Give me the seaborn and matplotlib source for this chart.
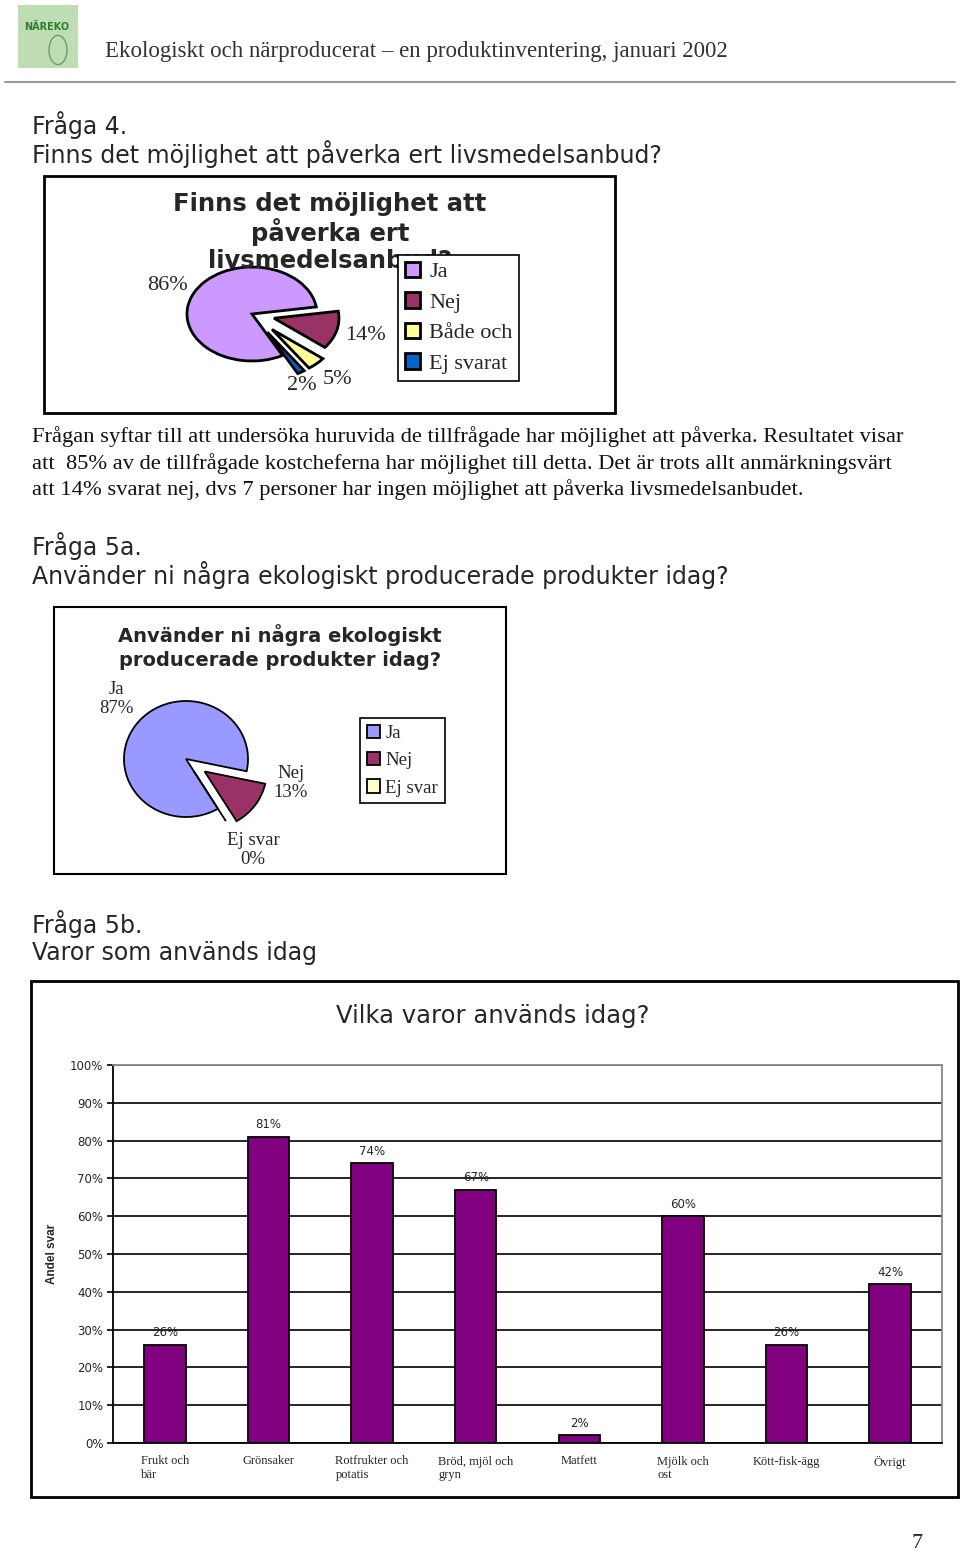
import matplotlib
matplotlib.use("Agg")
import matplotlib.pyplot as plt
from matplotlib.patches import Rectangle, Circle
import seaborn as sns
import numpy as np

sns.set_theme(style="white")
plt.rcParams["font.family"] = ["DejaVu Sans"]

W, H = 960, 1554

# --- data -------------------------------------------------------------
q4_labels = ["Ja", "Nej", "Både och", "Ej svarat"]
q4_values = [86, 14, 5, 2]
q4_colors = ["#CC99FF", "#993366", "#FFFF99", "#0066CC"]

q5a_labels = ["Ja", "Nej", "Ej svar"]
q5a_values = [87, 13, 0]
q5a_colors = ["#9999FF", "#993366", "#FFFFCC"]

q5b_categories = ["Frukt och\nbär", "Grönsaker", "Rotfrukter och\npotatis",
                  "Bröd, mjöl och\ngryn", "Matfett", "Mjölk och\nost",
                  "Kött-fisk-ägg", "Övrigt"]
q5b_values = [26, 81, 74, 67, 2, 60, 26, 42]
q5b_yticks = [0, 10, 20, 30, 40, 50, 60, 70, 80, 90, 100]

paragraph = [
    "Frågan syftar till att undersöka huruvida de tillfrågade har möjlighet att påverka. Resultatet visar",
    "att  85% av de tillfrågade kostcheferna har möjlighet till detta. Det är trots allt anmärkningsvärt",
    "att 14% svarat nej, dvs 7 personer har ingen möjlighet att påverka livsmedelsanbudet.",
]

SERIF = "Liberation Serif"


def rect(x0, y0, x1, y1):
    return [x0 / W, 1 - y1 / H, (x1 - x0) / W, (y1 - y0) / H]


def txt(x, y, s, **kw):
    kw.setdefault("va", "center")
    return fig.text(x / W, 1 - y / H, s, **kw)


def box(x0, y0, x1, y1, lw=1.5, **kw):
    fig.add_artist(Rectangle((x0 / W, 1 - y1 / H), (x1 - x0) / W, (y1 - y0) / H,
                             transform=fig.transFigure, fill=False,
                             edgecolor="black", linewidth=lw, **kw))


fig = plt.figure(figsize=(W / 100, H / 100), dpi=100)

# --- page header ------------------------------------------------------
fig.add_artist(Rectangle((18 / W, 1 - 68 / H), 60 / W, 63 / H, transform=fig.transFigure,
                         facecolor="#BFDDB5", edgecolor="none"))
txt(47, 27, "NÄREKO", ha="center", fontsize=7, fontweight="bold", color="#2E7D32")
fig.add_artist(Circle((58 / W, 1 - 50 / H), 9 / W, transform=fig.transFigure,
                      fill=False, edgecolor="#6E9A6E", linewidth=1))
txt(105, 52, "Ekologiskt och närproducerat – en produktinventering, januari 2002",
    family=SERIF, fontsize=16.5, color="#333333")
fig.add_artist(plt.Line2D([5 / W, 955 / W], [1 - 82 / H, 1 - 82 / H],
                          transform=fig.transFigure, color="#999999", linewidth=1.5))

# --- Fråga 4 ----------------------------------------------------------
txt(32, 125, "Fråga 4.", fontsize=17)
txt(32, 154, "Finns det möjlighet att påverka ert livsmedelsanbud?", fontsize=17)

box(44, 176, 615, 413, lw=2)
for y, line in zip([204, 232, 261], ["Finns det möjlighet att", "påverka ert", "livsmedelsanbud?"]):
    txt(330, y, line, ha="center", fontsize=17.5, fontweight="bold")

ax1 = fig.add_axes(rect(252 - 130, 314 - 94, 252 + 130, 314 + 94))
w1, _ = ax1.pie(q4_values, colors=q4_colors, startangle=-62, counterclock=False,
                explode=[0, 0.35, 0.45, 0.45],
                wedgeprops=dict(edgecolor="black", linewidth=2))
ax1.set_aspect("auto")
ax1.set_xlim(-2, 2)
ax1.set_ylim(-2, 2)
ax1.axis("off")
for (x, y), v in zip([(167, 285), (365, 336), (337, 379), (302, 385)], q4_values):
    txt(x, y, f"{v}%", ha="center", family=SERIF, fontsize=16)

leg1 = fig.legend(w1, q4_labels, loc="upper left", bbox_to_anchor=(398 / W, 1 - 255 / H),
                  bbox_transform=fig.transFigure, borderaxespad=0, fancybox=False,
                  edgecolor="black", framealpha=1, prop={"family": SERIF, "size": 16},
                  handlelength=0.7, handleheight=0.7, handletextpad=0.4,
                  labelspacing=0.45, borderpad=0.3)
leg1.get_frame().set_linewidth(1.2)

# --- paragraph --------------------------------------------------------
for i, line in enumerate(paragraph):
    txt(32, 437 + i * 26.5, line, family=SERIF, fontsize=16.2, color="#111111")

# --- Fråga 5a ---------------------------------------------------------
txt(32, 546, "Fråga 5a.", fontsize=17)
txt(32, 575, "Använder ni några ekologiskt producerade produkter idag?", fontsize=17)

box(54, 607, 506, 874, lw=1.5)
for y, line in zip([635, 661], ["Använder ni några ekologiskt", "producerade produkter idag?"]):
    txt(280, y, line, ha="center", fontsize=14, fontweight="bold")

ax2 = fig.add_axes(rect(186 - 124, 759 - 116, 186 + 124, 759 + 116))
w2, _ = ax2.pie(q5a_values, colors=q5a_colors, startangle=-59, counterclock=False,
                explode=[0, 0.37, 0.25],
                wedgeprops=dict(edgecolor="black", linewidth=1.3))
ax2.set_aspect("auto")
ax2.set_xlim(-2, 2)
ax2.set_ylim(-2, 2)
ax2.axis("off")
for (x, y), n, v in zip([(116, 699), (291, 783), (253, 850)], q5a_labels, q5a_values):
    txt(x, y, f"{n}\n{v}%", ha="center", family=SERIF, fontsize=13.5, linespacing=1.15)

leg2 = fig.legend(w2, q5a_labels, loc="upper left", bbox_to_anchor=(360 / W, 1 - 718 / H),
                  bbox_transform=fig.transFigure, borderaxespad=0, fancybox=False,
                  edgecolor="black", framealpha=1, prop={"family": SERIF, "size": 13.5},
                  handlelength=0.7, handleheight=0.7, handletextpad=0.3,
                  labelspacing=0.55, borderpad=0.35)
leg2.get_frame().set_linewidth(1.2)

# --- Fråga 5b ---------------------------------------------------------
txt(32, 924, "Fråga 5b.", fontsize=17)
txt(32, 953, "Varor som används idag", fontsize=17)

box(31, 981, 958, 1497, lw=2)
txt(493, 1016, "Vilka varor används idag?", ha="center", fontsize=17.5)

ax3 = fig.add_axes(rect(113, 1065, 942, 1443))
sns.barplot(x=q5b_categories, y=q5b_values, color="#800080", saturation=1,
            edgecolor="black", linewidth=1.3, width=0.4, ax=ax3)
ax3.set_xlim(-0.5, len(q5b_categories) - 0.5)
ax3.set_ylim(0, 100)
ax3.set_yticks(q5b_yticks)
ax3.set_yticklabels([f"{t}%" for t in q5b_yticks], fontsize=8.5)
ax3.set_xticks(range(len(q5b_categories)))
ax3.set_xticklabels(q5b_categories, family=SERIF, fontsize=9, ha="center",
                    multialignment="left")
ax3.set_xticks(np.arange(-0.5, len(q5b_categories)), minor=True)
ax3.tick_params(axis="x", which="major", length=0, pad=9)
ax3.tick_params(axis="x", which="minor", length=5, width=1.2, color="black", direction="out")
ax3.tick_params(axis="y", length=4, width=1.2, color="black", direction="out", pad=3, left=True)
ax3.set_axisbelow(True)
ax3.yaxis.grid(True, color="black", linewidth=1.2)
ax3.xaxis.grid(False)
for side in ["left", "bottom"]:
    ax3.spines[side].set_color("black")
    ax3.spines[side].set_linewidth(1.3)
for side in ["top", "right"]:
    ax3.spines[side].set_color("#888888")
    ax3.spines[side].set_linewidth(1.3)
ax3.set_xlabel("")
ax3.set_ylabel("Andel svar", fontsize=8.5, fontweight="bold", family="Liberation Sans")
ax3.yaxis.set_label_coords(-0.066, 0.5)
ax3.bar_label(ax3.containers[0], labels=[f"{v}%" for v in q5b_values], padding=4, fontsize=8.5)

txt(917, 1543, "7", ha="center", family=SERIF, fontsize=16)

fig.savefig("out.png", dpi=100, facecolor="white")
